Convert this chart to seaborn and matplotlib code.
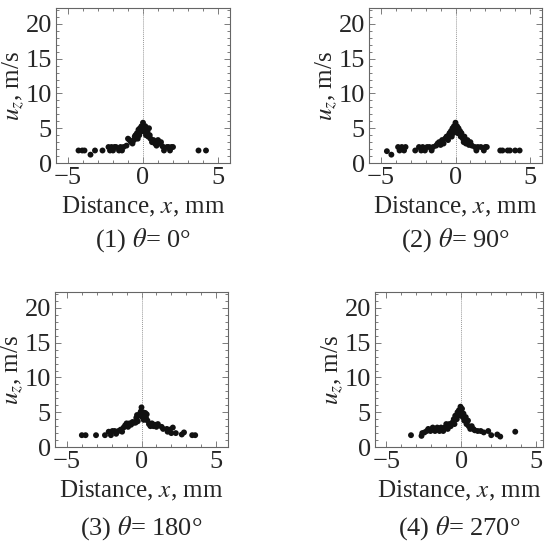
import numpy as np
import pandas as pd
import matplotlib
matplotlib.use('Agg')
import matplotlib.pyplot as plt
import seaborn as sns
from matplotlib.ticker import MultipleLocator

# theta = 0
x1 = [-4.3, -4.05, -3.9, -3.5, -3.2, -2.7, -2.3, -2.2, -2.1, -2.0, -1.9, -1.8, -1.6, -1.5, -1.4, -1.3,
      -1.1, -1.0, -0.9, -0.8, -0.7, -0.6, -0.55, -0.5, -0.4, -0.35, -0.3, -0.25, -0.2, -0.15, -0.1, -0.05,
      0.0, 0.05, 0.1, 0.15, 0.2, 0.25, 0.3, 0.35, 0.4, 0.45, 0.5, 0.6, 0.7, 0.8, 0.9, 1.0, 1.1, 1.2,
      1.3, 1.4, 1.6, 1.7, 1.8, 1.9, 2.0, 3.7, 4.2]
u1 = [1.8, 1.8, 1.8, 1.2, 1.8, 1.8, 2.3, 1.8, 2.3, 1.8, 2.3, 2.3, 1.8, 2.3, 1.8, 2.3,
      2.5, 3.5, 3.3, 3.0, 2.8, 3.3, 3.8, 4.0, 4.3, 3.5, 4.8, 4.0, 5.0, 4.5, 5.3, 4.8,
      5.8, 5.0, 4.5, 5.3, 4.0, 5.0, 4.5, 3.8, 5.0, 4.0, 3.5, 3.0, 3.3, 2.8, 2.5, 3.3, 2.8, 3.0,
      2.4, 1.8, 2.3, 2.3, 1.8, 2.3, 2.3, 1.8, 1.8]

# theta = 90
x2 = [-4.6, -4.3, -3.85, -3.75, -3.6, -3.45, -3.35, -2.7, -2.45, -2.3, -2.2, -2.05, -1.9, -1.75, -1.6,
      -1.5, -1.3, -1.2, -1.1, -1.0, -0.9, -0.8, -0.7, -0.6, -0.5, -0.45, -0.4, -0.3, -0.25, -0.2, -0.15,
      -0.1, -0.05, 0.0, 0.05, 0.1, 0.15, 0.2, 0.3, 0.35, 0.4, 0.5, 0.55, 0.6, 0.7, 0.8, 0.9, 1.0, 1.1,
      1.3, 1.4, 1.5, 1.7, 1.9, 2.0, 2.1, 3.0, 3.15, 3.5, 3.65, 4.0, 4.3]
u2 = [1.7, 1.2, 2.3, 1.8, 2.3, 1.8, 2.3, 1.8, 2.3, 1.8, 2.3, 1.8, 2.3, 2.3, 1.8,
      2.3, 2.5, 2.8, 3.0, 2.6, 3.3, 2.8, 3.5, 3.8, 3.3, 4.0, 4.3, 4.6, 3.8, 5.0, 4.3,
      5.3, 4.6, 5.8, 4.8, 5.3, 4.3, 5.0, 4.6, 3.8, 4.3, 3.5, 3.0, 3.8, 2.8, 3.3, 2.6, 3.0, 2.5,
      2.3, 1.8, 2.3, 2.3, 1.8, 2.3, 2.3, 1.8, 1.8, 1.8, 1.8, 1.8, 1.8]

# theta = 180
x3 = [-4.0, -3.75, -3.05, -2.45, -2.2, -2.05, -1.95, -1.8, -1.7, -1.55, -1.4, -1.3, -1.2, -1.1, -1.0,
      -0.9, -0.8, -0.7, -0.6, -0.5, -0.4, -0.35, -0.3, -0.25, -0.2, -0.1, -0.05, 0.0, 0.05, 0.1, 0.15,
      0.2, 0.25, 0.3, 0.35, 0.4, 0.5, 0.6, 0.7, 0.8, 0.9, 1.0, 1.1, 1.35, 1.45, 1.7, 1.75, 1.9, 2.0,
      2.1, 2.3, 2.7, 2.85, 3.4, 3.6]
u3 = [1.7, 1.7, 1.7, 1.7, 2.2, 1.7, 2.3, 2.3, 1.9, 2.3, 2.5, 2.2, 2.8, 3.1, 3.4,
      2.9, 3.4, 3.2, 3.6, 3.5, 3.5, 4.2, 4.6, 3.7, 4.5, 4.8, 5.1, 5.7, 4.3, 5.0, 3.9,
      4.6, 4.9, 4.2, 4.7, 3.8, 3.3, 3.0, 3.4, 3.0, 3.2, 2.9, 3.3, 2.9, 2.6, 2.6, 2.2, 2.5, 2.0,
      2.8, 2.0, 1.8, 2.1, 1.7, 1.7]

# theta = 270
x4 = [-3.35, -2.65, -2.6, -2.45, -2.3, -2.2, -2.05, -1.9, -1.75, -1.6, -1.45, -1.35, -1.2, -1.1, -1.0,
      -0.9, -0.8, -0.7, -0.6, -0.5, -0.45, -0.4, -0.3, -0.25, -0.2, -0.15, -0.1, -0.05, 0.0, 0.05, 0.1,
      0.15, 0.2, 0.3, 0.35, 0.45, 0.5, 0.6, 0.7, 0.8, 0.9, 1.1, 1.3, 1.5, 1.8, 2.0, 2.4, 2.6, 3.6]
u4 = [1.7, 1.6, 2.0, 2.1, 2.3, 2.6, 2.3, 2.8, 2.3, 2.8, 2.3, 2.8, 2.3, 2.8, 3.3,
      2.6, 3.3, 3.0, 3.5, 4.0, 3.3, 4.5, 4.0, 5.0, 4.5, 5.3, 4.8, 5.8, 5.0, 5.5, 4.3,
      4.8, 3.8, 4.3, 3.3, 3.8, 3.0, 2.6, 3.0, 2.6, 2.4, 2.3, 2.3, 2.1, 2.3, 1.7, 1.8, 1.5, 2.2]

captions = [r'(1) $\theta$= 0°', r'(2) $\theta$= 90°', r'(3) $\theta$= 180°', r'(4) $\theta$= 270°']
series = [(x1, u1), (x2, u2), (x3, u3), (x4, u4)]
xlims = [(-5.8, 5.8), (-5.8, 5.8), (-5.8, 5.8), (-5.75, 5.45)]

sns.set_style('ticks')
plt.rcParams['font.family'] = ['Liberation Serif', 'DejaVu Serif']
plt.rcParams['mathtext.fontset'] = 'stix'

W, H = 545, 542
fig = plt.figure(figsize=(W / 100, H / 100), dpi=100)

# axes boxes in pixels: left, top, width, height, caption offset
boxes = [(56, 8, 174, 155, -0.41), (369, 8, 173, 155, -0.41),
         (55, 292, 173, 155, -0.435), (375, 292, 168, 155, -0.435)]

for (x, u), cap, xl, (l, t, w, h, cy) in zip(series, captions, xlims, boxes):
    ax = fig.add_axes([l / W, 1 - (t + h) / H, w / W, h / H])
    df = pd.DataFrame({'x': x, 'u': u})
    ax.axvline(0, color='#999999', lw=0.7, ls=(0, (1, 1)), zorder=1)
    sns.scatterplot(data=df, x='x', y='u', ax=ax, color='#111111', s=18,
                    linewidth=0, edgecolor='none', zorder=3)
    ax.set_xlim(*xl)
    ax.set_ylim(0, 22.3)
    ax.xaxis.set_major_locator(MultipleLocator(5))
    ax.xaxis.set_minor_locator(MultipleLocator(1))
    ax.yaxis.set_major_locator(MultipleLocator(5))
    ax.yaxis.set_minor_locator(MultipleLocator(1))
    ax.tick_params(which='both', direction='in', top=True, right=True,
                   color='#666666', width=0.6, labelsize=19, pad=3)
    ax.tick_params(which='major', length=4)
    ax.tick_params(which='minor', length=2)
    for sp in ax.spines.values():
        sp.set_color('#666666')
        sp.set_linewidth(0.8)
    ax.set_xlabel(r'Distance, $x$, mm', fontsize=18, labelpad=4)
    ax.set_ylabel(r'$u_z$, m/s', fontsize=18, labelpad=-1)
    ax.text(0.5, cy, cap, transform=ax.transAxes, ha='center', va='top', fontsize=19)

fig.savefig('out.png', dpi=100)
